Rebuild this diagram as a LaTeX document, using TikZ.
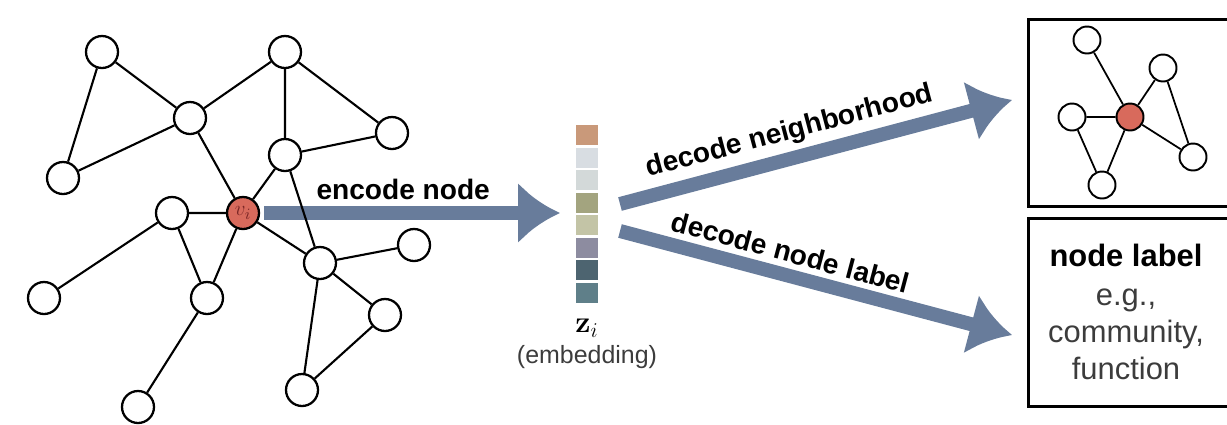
\documentclass[tikz,border=0pt]{standalone}
\usepackage[no-math]{fontspec}
\setmainfont{Liberation Sans}
\usepackage{amsmath}
\usepackage{xcolor}
\usetikzlibrary{arrows.meta}

\definecolor{arrowblue}{HTML}{687C9B}
\definecolor{nodered}{HTML}{D86A5C}
\definecolor{labelred}{HTML}{7A2626}
\definecolor{textgray}{HTML}{3C3C3C}

\newcommand{\arrowlbl}{\fontsize{16}{19}\selectfont\bfseries}
\newcommand{\boxlbl}{\fontsize{17.6}{21}\selectfont}

\begin{document}
\begin{tikzpicture}[x=0.02cm,y=-0.02cm,
    vtx/.style={circle,draw,line width=1.3pt,fill=white,minimum size=0.64cm,inner sep=0pt},
    smallvtx/.style={vtx,minimum size=0.54cm,line width=1.1pt},
    edge/.style={line width=1.2pt},
    flow/.style={arrowblue,line width=0.28cm,-{Latex[length=0.84cm,width=1.24cm]}},
    cell/.style={minimum width=0.44cm,minimum height=0.4cm,inner sep=0pt},
    box/.style={draw,line width=1.6pt,anchor=north west,minimum width=4.3cm,inner sep=0pt}]
    \useasboundingbox (0,0) rectangle (1227,424);

    % input graph
    \node[vtx] (u1) at (102,52) {};
    \node[vtx] (u2) at (285,52) {};
    \node[vtx] (u3) at (190,118) {};
    \node[vtx] (u4) at (392,133) {};
    \node[vtx] (u5) at (285,155) {};
    \node[vtx] (u6) at (63,178) {};
    \node[vtx] (u7) at (172,213) {};
    \node[vtx,fill=nodered] (vi) at (243,213) {\fontsize{13}{15}\selectfont$\color{labelred}v_i$};
    \node[vtx] (u8) at (414,245) {};
    \node[vtx] (u9) at (320,263) {};
    \node[vtx] (u10) at (44,298) {};
    \node[vtx] (u11) at (207,298) {};
    \node[vtx] (u12) at (385,315) {};
    \node[vtx] (u13) at (302,390) {};
    \node[vtx] (u14) at (138,407) {};

    % embedding vector
    \node[cell,fill={rgb,255:red,201;green,153;blue,122}] (z1) at (587,135) {};
    \node[cell,fill={rgb,255:red,216;green,221;blue,226}] (z2) at (587,157.5) {};
    \node[cell,fill={rgb,255:red,211;green,217;blue,217}] (z3) at (587,180) {};
    \node[cell,fill={rgb,255:red,163;green,164;blue,127}] (z4) at (587,202.5) {};
    \node[cell,fill={rgb,255:red,195;green,196;blue,166}] (z5) at (587,225) {};
    \node[cell,fill={rgb,255:red,141;green,140;blue,160}] (z6) at (587,247.5) {};
    \node[cell,fill={rgb,255:red,77;green,100;blue,112}] (z7) at (587,270) {};
    \node[cell,fill={rgb,255:red,95;green,127;blue,137}] (z8) at (587,292.5) {};
    \node (zi) at (587,328) {\fontsize{17}{20}\selectfont$\mathbf{z}_i$};
    \node[textgray] (emb) at (587,357) {\fontsize{14.2}{17}\selectfont(embedding)};

    % encoder arrow (under the edges)
    \coordinate (encend) at (560,213);
    \draw[flow] ([xshift=0.08cm]vi.east) -- (encend)
        node[pos=0.47,above,text=black] {\arrowlbl encode node};

    \draw[edge] (u1) -- (u3) (u1) -- (u6) (u6) -- (u3) (u3) -- (u2);
    \draw[edge] (u3) -- (vi) (u2) -- (u5) (u2) -- (u4) (u5) -- (u4);
    \draw[edge] (u5) -- (vi) (u5) -- (u9) (vi) -- (u7) (vi) -- (u11);
    \draw[edge] (u7) -- (u11) (u7) -- (u10) (u11) -- (u14) (vi) -- (u9);
    \draw[edge] (u9) -- (u8) (u9) -- (u12) (u9) -- (u13) (u13) -- (u12);

    % decoder arrows
    \coordinate (nbfrom) at (620,204);
    \coordinate (nbto) at (1012,100);
    \coordinate (lblfrom) at (620,231);
    \coordinate (lblto) at (1012,335);
    \draw[flow] (nbfrom) -- (nbto)
        node[pos=0.45,above,sloped,text=black] {\arrowlbl decode neighborhood};
    \draw[flow] (lblfrom) -- (lblto)
        node[pos=0.42,above,sloped,text=black] {\arrowlbl decode node label};

    % output boxes
    \node[box,minimum height=3.74cm] (nbbox) at (1027,18) {};
    \node[box,minimum height=3.76cm] (lblbox) at (1027,217) {};

    \node[smallvtx] (m1) at (1087,40) {};
    \node[smallvtx] (m2) at (1163,68) {};
    \node[smallvtx] (m3) at (1072,117) {};
    \node[smallvtx,fill=nodered] (mc) at (1130,117) {};
    \node[smallvtx] (m4) at (1193,157) {};
    \node[smallvtx] (m5) at (1102,185) {};
    \draw[edge,line width=1pt] (m1) -- (mc) (m3) -- (mc) (mc) -- (m2) (m2) -- (m4);
    \draw[edge,line width=1pt] (mc) -- (m4) (m3) -- (m5) (mc) -- (m5);

    \node[align=center,textgray,font=\boxlbl] (lbltext) at (1126,312)
        {\textcolor{black}{\textbf{node label}}\\[1pt] e.g.,\\ community,\\ function};
\end{tikzpicture}
\end{document}
